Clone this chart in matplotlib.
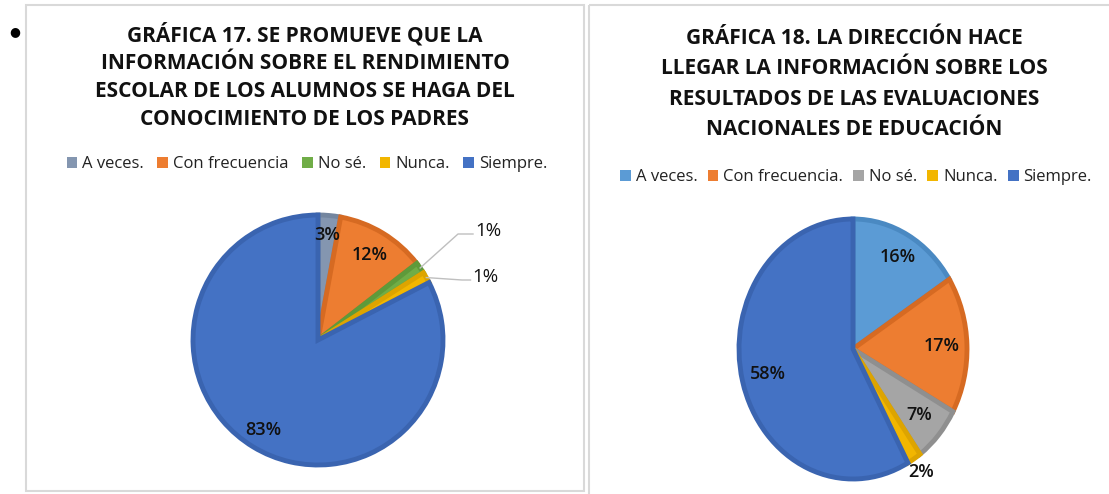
import matplotlib
matplotlib.use("Agg")
import matplotlib.pyplot as plt
from matplotlib.patches import Patch, Rectangle
import numpy as np

plt.rcParams['font.family'] = ['Open Sans', 'DejaVu Sans']

# grafica 17 (shares in %, labels shown rounded)
cats17 = ['A veces.', 'Con frecuencia', 'No sé.', 'Nunca.', 'Siempre.']
vals17 = [2.9, 11.6, 1.45, 1.45, 82.6]
title17 = ['GRÁFICA 17. SE PROMUEVE QUE LA',
           'INFORMACIÓN SOBRE EL RENDIMIENTO',
           'ESCOLAR DE LOS ALUMNOS SE HAGA DEL',
           'CONOCIMIENTO DE LOS PADRES']

# grafica 18
cats18 = ['A veces.', 'Con frecuencia.', 'No sé.', 'Nunca.', 'Siempre.']
vals18 = [16, 17, 7, 2, 58]
title18 = ['GRÁFICA 18. LA DIRECCIÓN HACE',
           'LLEGAR LA INFORMACIÓN SOBRE LOS',
           'RESULTADOS DE LAS EVALUACIONES',
           'NACIONALES DE EDUCACIÓN']

col17 = ['#8496B0', '#ED7D31', '#70AD47', '#F2B600', '#4472C4']
edge17 = ['#74869F', '#D66A22', '#5E9A3A', '#DDA400', '#3A64B0']
col18 = ['#5B9BD5', '#ED7D31', '#A5A5A5', '#F2B600', '#4472C4']
edge18 = ['#4A89C2', '#D66A22', '#8F8F8F', '#DDA400', '#3A64B0']

W, H = 1109, 494
fig = plt.figure(figsize=(W / 100, H / 100), dpi=100)
fig.patch.set_facecolor('white')

bg = fig.add_axes([0, 0, 1, 1])
bg.set_xlim(0, W)
bg.set_ylim(H, 0)
bg.axis('off')

# panel frames
bg.add_patch(Rectangle((26, 5), 558, 486, fill=False, ec='#D9D9D9', lw=1.5))
bg.add_patch(Rectangle((589, 5), 540, 510, fill=False, ec='#D9D9D9', lw=1.5))
bg.text(15, 32, '●', fontsize=9, ha='center', va='center', family='DejaVu Sans')

for i, line in enumerate(title17):
    bg.text(305, 35 + i * 28.2, line, ha='center', va='center', fontsize=15,
            fontweight='bold', color='#111111')
for i, line in enumerate(title18):
    bg.text(854, 38 + i * 30.5, line, ha='center', va='center', fontsize=15,
            fontweight='bold', color='#111111')


def pie_axes(cx, cy, rx, ry):
    half = 160
    ax = fig.add_axes([(cx - half) / W, (H - cy - half) / H, 2 * half / W, 2 * half / H])
    ax.set_aspect('auto')
    return ax, half / rx, half / ry


def draw(ax, sx, sy, vals, cols, edges):
    wedges, _ = ax.pie(vals, colors=cols, startangle=90, counterclock=False,
                       wedgeprops=dict(linewidth=3.5))
    for w, e in zip(wedges, edges):
        w.set_edgecolor(e)
    ax.set_xlim(-sx, sx)
    ax.set_ylim(-sy, sy)
    ax.set_aspect('auto')
    return wedges


def mid(w):
    return np.deg2rad((w.theta1 + w.theta2) / 2)


lab = dict(fontsize=13, fontweight='semibold', ha='center', va='center', color='#111111')

ax1, sx1, sy1 = pie_axes(318, 340, 125, 125)
w1 = draw(ax1, sx1, sy1, vals17, col17, edge17)
r17 = [0.84, 0.80, None, None, 0.84]
for w, v, r in zip(w1, vals17, r17):
    if r is not None:
        a = mid(w)
        ax1.text(r * np.cos(a), r * np.sin(a), f'{v:.0f}%', **lab)
# outside labels with leader lines (No sé., Nunca.)
outside = {2: ((458 - 318) / 125, (340 - 234) / 125, 1.32),
           3: ((462 - 318) / 125, (340 - 280) / 125, 1.30)}
for k, (ex, ey, tx) in outside.items():
    a = mid(w1[k])
    ax1.plot([np.cos(a), ex, tx - 0.08], [np.sin(a), ey, ey], color='#BFBFBF', lw=1)
    ax1.text(tx + 0.04, ey + 0.02, f'{vals17[k]:.0f}%', fontsize=13.5, ha='center',
             va='center', color='#111111')

ax2, sx2, sy2 = pie_axes(853, 349, 114, 130)
w2 = draw(ax2, sx2, sy2, vals18, col18, edge18)
r18 = [0.81, 0.78, 0.77, 1.12, 0.77]
for w, v, r in zip(w2, vals18, r18):
    a = mid(w)
    ax2.text(r * np.cos(a), r * np.sin(a), f'{v}%', **lab)

fig.legend([Patch(fc=c) for c in col17], cats17, loc='center', bbox_to_anchor=(307, 164),
           bbox_transform=bg.transData, ncol=5, frameon=False, fontsize=12,
           handlelength=0.65, handleheight=0.65, handletextpad=0.3, columnspacing=0.8,
           labelcolor='#222222')
fig.legend([Patch(fc=c) for c in col18], cats18, loc='center', bbox_to_anchor=(856, 177),
           bbox_transform=bg.transData, ncol=5, frameon=False, fontsize=12,
           handlelength=0.65, handleheight=0.65, handletextpad=0.3, columnspacing=0.6,
           labelcolor='#222222')

fig.savefig('out.png', dpi=100, facecolor='white')
